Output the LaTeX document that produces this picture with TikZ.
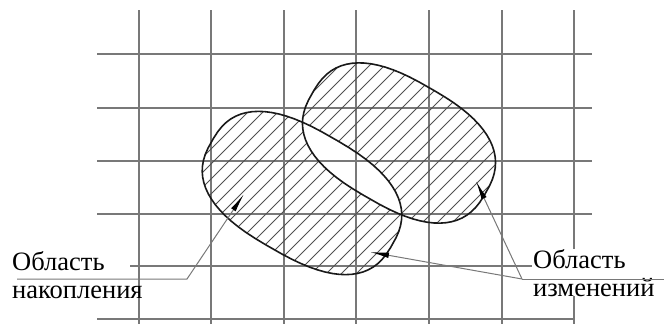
\documentclass[tikz,border=0pt]{standalone}
\usepackage{fontspec}
\setmainfont{Liberation Serif}
\usetikzlibrary{arrows.meta}
\definecolor{gridgray}{RGB}{120,120,120}
\definecolor{hatchgray}{RGB}{80,80,80}
\newcommand\zonepath[4]{plot[domain=1:361, samples=73, variable=\t]
  ({#1 + #3*sign(cos(\t))*abs(cos(\t))^0.77*0.866 - #4*sign(sin(\t))*abs(sin(\t))^0.77*0.5},
   {#2 + #3*sign(cos(\t))*abs(cos(\t))^0.77*0.5 + #4*sign(sin(\t))*abs(sin(\t))^0.77*0.866}) -- cycle}

\begin{document}
\begin{tikzpicture}[x=1pt, y=-1pt,
  gridline/.style={draw=gridgray, line width=1.6pt},
  hatchline/.style={draw=hatchgray, line width=0.75pt},
  zoneedge/.style={draw=black!90, line width=1.6pt, line join=round},
  leader/.style={draw=gridgray, line width=1pt},
  pointer/.style={leader, -{Latex[length=19pt, width=5.5pt, black]}},
  caption/.style={font=\fontsize{26.5}{28}\selectfont, align=left, inner sep=0pt, anchor=north west}]
  \useasboundingbox (0,0) rectangle (664,324);
  \foreach \gx in {139,211,284,356,429,502,574}
    \draw[gridline] (\gx,10) -- (\gx,324);
  \foreach \gy in {54,108,161,214}
    \draw[gridline] (97,\gy) -- (592,\gy);
  \draw[gridline] (130,266) -- (532,266);
  \draw[gridline] (97,319) -- (573,319);
  \begin{scope}[even odd rule]
    \clip \zonepath{302}{193}{104}{63} \zonepath{399}{143}{100}{63};
    \foreach \hx in {0,15,...,660}
      \draw[hatchline] (\hx,330) -- ++(300,-300);
  \end{scope}
  \draw[zoneedge] \zonepath{302}{193}{104}{63};
  \draw[zoneedge] \zonepath{399}{143}{100}{63};
  \node[caption] (nak) at (12,251) {Область\\накопления};
  \node[caption, fill=white] (izm) at (533,249) {Область\\изменений};
  \coordinate (nakStart) at (17,279);
  \coordinate (nakKnee) at (187,279);
  \coordinate (nakTip) at (244,194);
  \coordinate (izmEnd) at (664,279);
  \coordinate (izmKnee) at (522,279);
  \coordinate (izmTipA) at (476,181);
  \coordinate (izmTipB) at (370,252);
  \draw[pointer] (nakStart) -- (nakKnee) -- (nakTip);
  \draw[leader] (izmEnd) -- (izmKnee);
  \draw[pointer] (izmKnee) -- (izmTipA);
  \draw[pointer] (izmKnee) -- (izmTipB);
\end{tikzpicture}
\end{document}
